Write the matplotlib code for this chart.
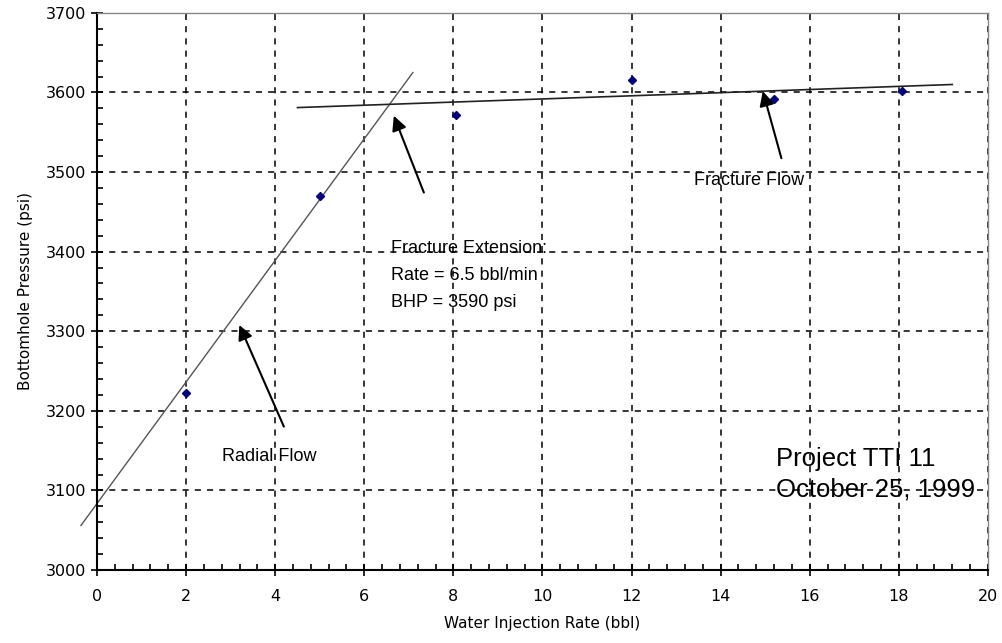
import numpy as np
import matplotlib
matplotlib.use("Agg")
import matplotlib.pyplot as plt
from matplotlib.ticker import MultipleLocator

plt.rcParams['font.family'] = ['Liberation Sans', 'DejaVu Sans']

# measured points
rate = [2.0, 5.0, 8.05, 12.0, 15.2, 18.07]
bhp = [3222, 3470, 3572, 3616, 3592, 3602]

# hand-fitted trend lines (end points)
radial_x = [-0.36, 7.09]
radial_y = [3056, 3625]
frac_x = [4.5, 19.2]
frac_y = [3581, 3610]

fig = plt.figure(figsize=(10.03, 6.43), dpi=100)
ax = fig.add_axes([0.0967, 0.1135, 0.8883, 0.8665])

ax.plot(radial_x, radial_y, color="#555555", lw=1.0, clip_on=False)
ax.plot(frac_x, frac_y, color="#222222", lw=1.2)
ax.plot(rate, bhp, linestyle="none", marker="D", markersize=4.5, color="#000080")

ax.set_xlim(0, 20)
ax.set_ylim(3000, 3700)
ax.xaxis.set_major_locator(MultipleLocator(2))
ax.xaxis.set_minor_locator(MultipleLocator(0.4))
ax.yaxis.set_major_locator(MultipleLocator(100))
ax.yaxis.set_minor_locator(MultipleLocator(20))
ax.tick_params(which="major", direction="inout", length=8, width=1.2, labelsize=11.5, pad=4)
ax.tick_params(axis="x", which="major", pad=10)
ax.tick_params(which="minor", direction="in", length=4, width=1.2)
for lab in ax.get_xticklabels() + ax.get_yticklabels():
    lab.set_family("DejaVu Sans")
ax.grid(True, which="major", color="black", linestyle=(0, (4, 4)), linewidth=1.1)

for s in ["left", "bottom"]:
    ax.spines[s].set_linewidth(1.5)
    ax.spines[s].set_color("black")
for s in ["top", "right"]:
    ax.spines[s].set_linewidth(1.0)
    ax.spines[s].set_color("#888888")

ax.set_xlabel("Water Injection Rate (bbl)", fontsize=11, labelpad=8, family="DejaVu Sans")
ax.set_ylabel("Bottomhole Pressure (psi)", fontsize=11, labelpad=9, family="DejaVu Sans")

arrow = dict(arrowstyle="-|>", color="black", lw=1.5, mutation_scale=22)
ax.annotate("", xy=(6.64, 3574), xytext=(7.36, 3471), arrowprops=arrow)
ax.annotate("", xy=(3.17, 3311), xytext=(4.22, 3177), arrowprops=arrow)
ax.annotate("", xy=(14.93, 3605), xytext=(15.38, 3514), arrowprops=arrow)

ax.text(6.6, 3370, "Fracture Extension:\nRate = 6.5 bbl/min\nBHP = 3590 psi",
        fontsize=13, va="center", ha="left", linespacing=1.8)
ax.text(2.8, 3142, "Radial Flow", fontsize=13, va="center", ha="left")
ax.text(13.4, 3490, "Fracture Flow", fontsize=13, va="center", ha="left")
ax.text(15.25, 3120, "Project TTI 11\nOctober 25, 1999", fontsize=18.5,
        va="center", ha="left", linespacing=1.35)

fig.savefig("out.png", dpi=100)
